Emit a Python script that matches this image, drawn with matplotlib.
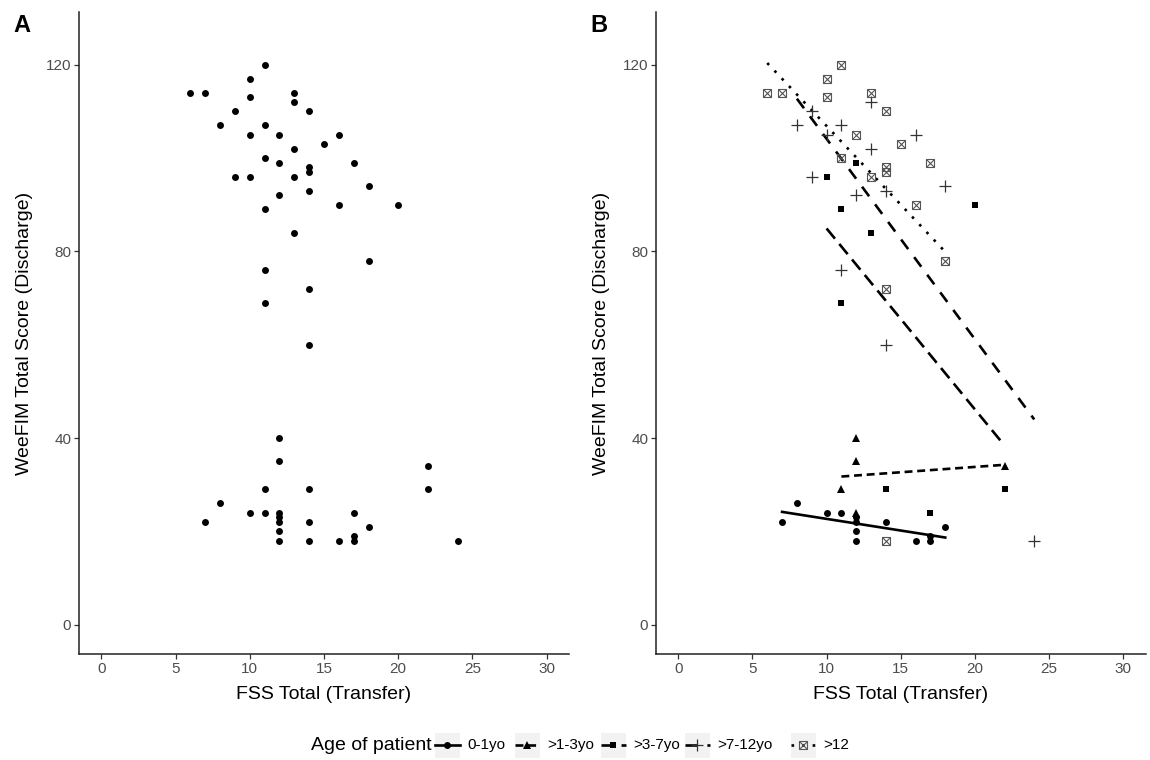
import matplotlib
matplotlib.use("Agg")
import matplotlib.pyplot as plt
import numpy as np
from matplotlib.patches import Rectangle

plt.rcParams['font.family'] = ['Liberation Sans', 'DejaVu Sans']

# FSS total (transfer) vs WeeFIM total (discharge), split by age group
g01_x = [7, 8, 10, 11, 12, 12, 12, 12, 14, 16, 17, 17, 18]
g01_y = [22, 26, 24, 24, 23, 22, 20, 18, 22, 18, 19, 18, 21]

g13_x = [11, 12, 12, 12, 22]
g13_y = [29, 40, 35, 24, 34]

g37_x = [10, 11, 11, 12, 13, 14, 17, 20, 22]
g37_y = [96, 89, 69, 99, 84, 29, 24, 90, 29]

g712_x = [8, 9, 9, 10, 11, 11, 12, 13, 13, 14, 14, 16, 18, 24]
g712_y = [107, 110, 96, 105, 107, 76, 92, 112, 102, 93, 60, 105, 94, 18]

g12_x = [6, 7, 10, 10, 11, 11, 12, 13, 13, 14, 14, 14, 14, 14, 15, 16, 17, 18]
g12_y = [114, 114, 117, 113, 120, 100, 105, 114, 96, 110, 98, 97, 72, 18, 103, 90, 99, 78]

group_labels = ["0-1yo", ">1-3yo", ">3-7yo", ">7-12yo", ">12"]
x_ticks = [0, 5, 10, 15, 20, 25, 30]
y_ticks = [0, 40, 80, 120]

groups = [(g01_x, g01_y), (g13_x, g13_y), (g37_x, g37_y), (g712_x, g712_y), (g12_x, g12_y)]

LW = 1.9
styles = [
    dict(ls='-', marker='o', ms=5.0, mfc='black', mec='black', mew=0),
    dict(ls=(0, (3, 1.8)), marker='^', ms=6.2, mfc='black', mec='black', mew=0),
    dict(ls=(0, (5, 2.6)), marker='s', ms=5.0, mfc='black', mec='black', mew=0),
    dict(ls=(0, (4.5, 3.8)), marker='+', ms=8, mfc='none', mec='#333333', mew=0.9),
    dict(ls=(0, (1, 3)), marker='s', ms=6.0, mfc='none', mec='#555555', mew=0.8),
]

W, H = 1150, 760


def style_axes(ax):
    ax.set_xlim(-1.5, 31.5)
    ax.set_ylim(-6.25, 131.25)
    ax.set_xticks(x_ticks)
    ax.set_yticks(y_ticks)
    for s in ['top', 'right']:
        ax.spines[s].set_visible(False)
    for s in ['left', 'bottom']:
        ax.spines[s].set_linewidth(1.1)
        ax.spines[s].set_color('#222222')
    ax.tick_params(length=3.5, width=0.9, color='#333333', labelcolor='#4D4D4D',
                   labelsize=11, pad=2)
    ax.set_xlabel("FSS Total (Transfer)", fontsize=14, color='black')
    ax.set_ylabel("WeeFIM Total Score (Discharge)", fontsize=14, color='black')
    ax.xaxis.set_label_coords(0.5, -0.05)
    ax.yaxis.set_label_coords(-0.094, 0.5)


def draw_marker(ax, x, y, st, zorder=3):
    ax.plot(x, y, ls='none', marker=st['marker'], ms=st['ms'], mfc=st['mfc'],
            mec=st['mec'], mew=st['mew'], zorder=zorder)
    if st is styles[4]:
        ax.plot(x, y, ls='none', marker='x', ms=st['ms'] * 0.95, mec=st['mec'],
                mew=st['mew'], zorder=zorder)


fig = plt.figure(figsize=(W / 100, H / 100), dpi=100)
bottom = 1 - 654 / H
height = (654 - 12) / H
axA = fig.add_axes([79 / W, bottom, (569 - 79) / W, height])
axB = fig.add_axes([656 / W, bottom, (1145.5 - 656) / W, height])

# panel A: all patients together
all_x = np.concatenate([g[0] for g in groups])
all_y = np.concatenate([g[1] for g in groups])
axA.scatter(all_x, all_y, s=5.0 ** 2, color='black', linewidths=0, zorder=3)
style_axes(axA)

# panel B: by age group with linear fits
for (gx, gy), st in zip(groups, styles):
    gx = np.array(gx, dtype=float)
    gy = np.array(gy, dtype=float)
    draw_marker(axB, gx, gy, st)
    slope, icpt = np.polyfit(gx, gy, 1)
    xs = np.array([gx.min(), gx.max()])
    axB.plot(xs, icpt + slope * xs, color='black', lw=LW, ls=st['ls'], zorder=2)
style_axes(axB)

fig.text(13 / W, 1 - 32 / H, "A", fontsize=17, fontweight='bold', va='baseline')
fig.text(590 / W, 1 - 32 / H, "B", fontsize=17, fontweight='bold', va='baseline')

# legend along the bottom, drawn in pixel units
axL = fig.add_axes([0, 0, 1, 45 / H])
axL.set_xlim(0, W)
axL.set_ylim(760, 715)
axL.axis('off')
ly = 745
axL.text(432, ly, "Age of patient", fontsize=14, ha='right', va='center')
key_centers = [447, 527, 613, 697, 803]
key = 25
for cx, lab, st in zip(key_centers, group_labels, styles):
    axL.add_patch(Rectangle((cx - key / 2, ly - key / 2), key, key, facecolor='#F2F2F2',
                            edgecolor='none'))
    axL.plot([cx - key / 2, cx + key / 2], [ly, ly], color='black', lw=LW, ls=st['ls'])
    draw_marker(axL, [cx], [ly], st)
    axL.text(cx + key / 2 + 8, ly, lab, fontsize=11, ha='left', va='center')

fig.savefig("out.png", dpi=100)
